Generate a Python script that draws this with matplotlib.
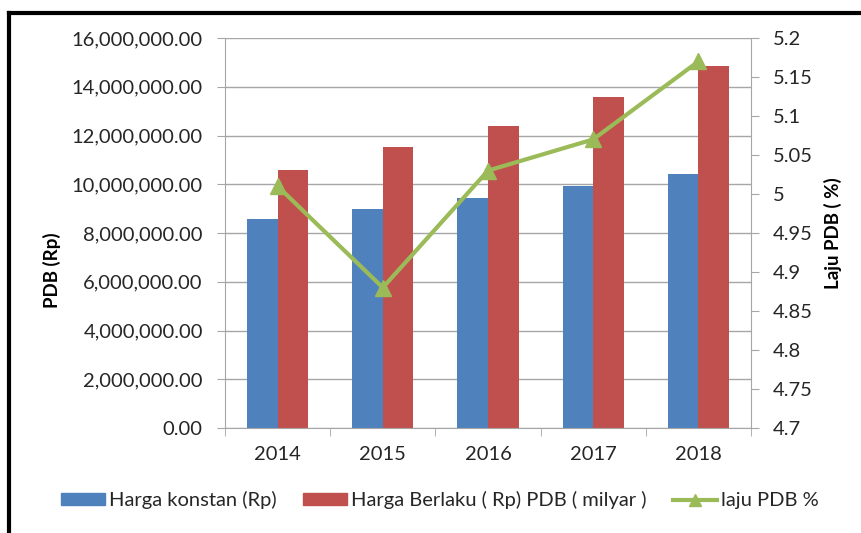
import matplotlib.pyplot as plt
from matplotlib.lines import Line2D
from matplotlib.ticker import FuncFormatter, MultipleLocator

plt.rcParams['font.family'] = ['Lato', 'DejaVu Sans']

# Data
years = ['2014', '2015', '2016', '2017', '2018']
harga_konstan = [8564866.6, 8982517.1, 9434613.4, 9912749.3, 10425316.3]
harga_berlaku = [10569705.3, 11526332.8, 12406774.1, 13589825.7, 14837357.5]
laju_pdb = [5.01, 4.88, 5.03, 5.07, 5.17]

blue = '#4F81BD'
red = '#C0504D'
green = '#9BBB59'
grid_c = '#A6A6A6'
txt_c = '#262626'
fs = 14.5

fig = plt.figure(figsize=(8.61, 5.33), dpi=100)
ax = fig.add_axes([225 / 861, 1 - 428 / 533, (751 - 225) / 861, (428 - 38) / 533])

x = list(range(len(years)))
w = 0.29
ax.bar([i - w / 2 for i in x], harga_konstan, width=w, color=blue, zorder=2)
ax.bar([i + w / 2 for i in x], harga_berlaku, width=w, color=red, zorder=2)

ax.set_xlim(-0.5, 4.5)
ax.set_ylim(0, 16000000)
ax.yaxis.set_major_locator(MultipleLocator(2000000))
ax.yaxis.set_major_formatter(FuncFormatter(lambda v, p: f'{v:,.2f}'))
ax.grid(axis='y', color=grid_c, linewidth=1, zorder=0)
ax.set_axisbelow(True)

ax.set_xticks(x)
ax.set_xticklabels(years)
ax.set_xticks([i - 0.5 for i in range(len(years) + 1)], minor=True)
ax.tick_params(axis='x', which='major', length=0, pad=13, labelsize=fs, labelcolor=txt_c)
ax.tick_params(axis='x', which='minor', length=6, color=grid_c, direction='out')
ax.tick_params(axis='y', length=6, color=grid_c, pad=10, labelsize=fs, labelcolor=txt_c)

for s in ['left', 'bottom']:
    ax.spines[s].set_color(grid_c)
ax.spines['top'].set_visible(False)
ax.spines['right'].set_visible(False)

fig.text(52 / 861, 1 - 270 / 533, 'PDB (Rp)', rotation=90, ha='center', va='center',
         fontsize=13.5, fontweight='bold', color='black')

ax2 = ax.twinx()
ax2.plot(x, laju_pdb, color=green, linewidth=3, marker='^', markersize=12, zorder=3)
ax2.set_ylim(4.7, 5.2)
ax2.yaxis.set_major_locator(MultipleLocator(0.05))
ax2.yaxis.set_major_formatter(FuncFormatter(lambda v, p: f'{v:.2f}'.rstrip('0').rstrip('.')))
ax2.tick_params(axis='y', length=6, color=grid_c, pad=10, labelsize=fs, labelcolor=txt_c)
ax2.spines['right'].set_color(grid_c)
for s in ['left', 'top', 'bottom']:
    ax2.spines[s].set_visible(False)
fig.text(833 / 861, 1 - 233 / 533, 'Laju PDB ( %)', rotation=90, ha='center', va='center',
         fontsize=13.5, fontweight='bold', color='black')

handles = [
    plt.Rectangle((0, 0), 1, 1, color=blue),
    plt.Rectangle((0, 0), 1, 1, color=red),
    Line2D([0], [0], color=green, linewidth=3, marker='^', markersize=8),
]
labels = ['Harga konstan (Rp)', 'Harga Berlaku ( Rp) PDB ( milyar )', 'laju PDB %']
fig.legend(handles, labels, loc='center', bbox_to_anchor=(440 / 861, 1 - 500 / 533), ncol=3,
           frameon=False, fontsize=fs, handlelength=2.2, handleheight=0.5,
           handletextpad=0.2, columnspacing=1.3, labelcolor=txt_c)

# frame around the chart
fig.add_artist(Line2D([9 / 861, 1], [1 - 13 / 533, 1 - 13 / 533], color='black', linewidth=3,
                      transform=fig.transFigure))
fig.add_artist(Line2D([9 / 861, 9 / 861], [0, 1 - 13 / 533], color='black', linewidth=3,
                      transform=fig.transFigure))

fig.savefig('out.png', dpi=100)
